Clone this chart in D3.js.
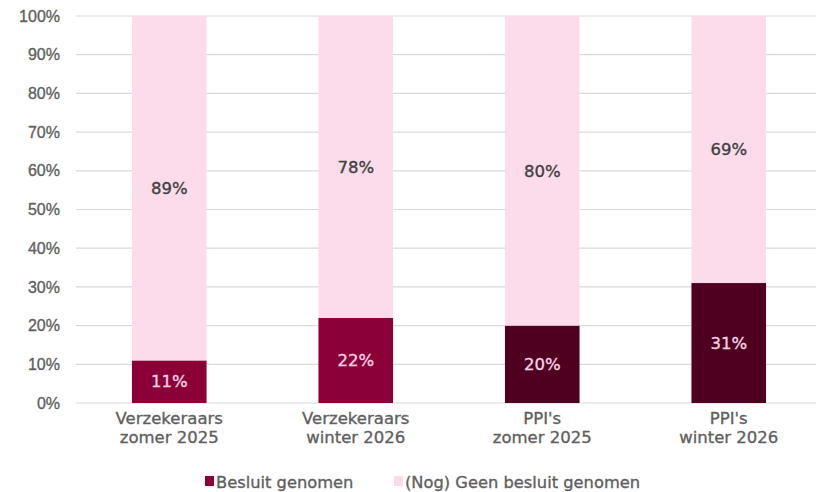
<!DOCTYPE html>
<html>
<head>
<meta charset="utf-8">
<script src="https://cdn.jsdelivr.net/npm/d3@7"></script>
<style>
  html, body { margin: 0; padding: 0; background: #fff; }
  svg { display: block; font-family: "DejaVu Sans", Verdana, sans-serif; }
  .txt { paint-order: stroke; stroke-width: 0.35px; }
</style>
</head>
<body>
<svg id="chart" width="822" height="492"></svg>
<script>
// Categories (two-line labels) and stacked shares
const categories = [
  ["Verzekeraars", "zomer 2025"],
  ["Verzekeraars", "winter 2026"],
  ["PPI's", "zomer 2025"],
  ["PPI's", "winter 2026"]
];
const besluit = [11, 22, 20, 31];
const geenBesluit = [89, 78, 80, 69];
const yTicks = [0, 10, 20, 30, 40, 50, 60, 70, 80, 90, 100];
const seriesNames = ["Besluit genomen", "(Nog) Geen besluit genomen"];

// Bottom segment colour per category, pink for the remainder
const bottomColors = ["#8c0038", "#8c0038", "#4f0020", "#4f0020"];
const topColor = "#fcdcea";
const axisGrey = "#5f5f5f";

const svg = d3.select("#chart");
const margin = { left: 76, right: 0, top: 16, bottom: 89 };
const W = 822, H = 492;

const x = d3.scaleBand()
  .domain(d3.range(categories.length))
  .range([margin.left, W - margin.right])
  .paddingInner(0.6)
  .paddingOuter(0.3);

const y = d3.scaleLinear().domain([0, 100]).range([H - margin.bottom, margin.top]);

// Gridlines
svg.append("g")
  .selectAll("line")
  .data(yTicks)
  .join("line")
  .attr("x1", margin.left)
  .attr("x2", W - 6)
  .attr("y1", d => y(d))
  .attr("y2", d => y(d))
  .attr("stroke", "#d9d9d9")
  .attr("stroke-width", 1.2);

// Y axis labels
const yAxis = d3.axisLeft(y).tickValues(yTicks).tickFormat(d => d + "%").tickSize(0);
const yg = svg.append("g").attr("transform", `translate(${margin.left},0)`).call(yAxis);
yg.select(".domain").remove();
yg.selectAll("text")
  .attr("class", "txt")
  .attr("fill", axisGrey).attr("stroke", axisGrey)
  .attr("font-size", 16).attr("x", -16);

// Stacked bars
const bars = svg.append("g");
categories.forEach((c, i) => {
  bars.append("rect")
    .attr("x", x(i)).attr("width", x.bandwidth())
    .attr("y", y(besluit[i])).attr("height", y(0) - y(besluit[i]))
    .attr("fill", bottomColors[i]);
  bars.append("rect")
    .attr("x", x(i)).attr("width", x.bandwidth())
    .attr("y", y(besluit[i] + geenBesluit[i])).attr("height", y(besluit[i]) - y(besluit[i] + geenBesluit[i]))
    .attr("fill", topColor);
  // Value labels
  bars.append("text")
    .attr("class", "txt")
    .attr("x", x(i) + x.bandwidth() / 2)
    .attr("y", (y(0) + y(besluit[i])) / 2)
    .attr("dy", "0.35em")
    .attr("text-anchor", "middle")
    .attr("font-size", 16.5)
    .attr("fill", "#f6d3e3").attr("stroke", "#f6d3e3")
    .text(besluit[i] + "%");
  bars.append("text")
    .attr("class", "txt")
    .attr("x", x(i) + x.bandwidth() / 2)
    .attr("y", (y(besluit[i]) + y(besluit[i] + geenBesluit[i])) / 2)
    .attr("dy", "0.35em")
    .attr("text-anchor", "middle")
    .attr("font-size", 16.5)
    .attr("fill", "#404040").attr("stroke", "#404040")
    .text(geenBesluit[i] + "%");
});

// Category labels
const xl = svg.append("g");
categories.forEach((c, i) => {
  const t = xl.append("text")
    .attr("class", "txt")
    .attr("text-anchor", "middle")
    .attr("font-size", 16.5)
    .attr("fill", axisGrey).attr("stroke", axisGrey);
  c.forEach((line, k) => {
    t.append("tspan")
      .attr("x", x(i) + x.bandwidth() / 2)
      .attr("y", 424 + k * 19)
      .text(line);
  });
});

// Legend
const legend = svg.append("g");
const legendItems = [
  { name: seriesNames[0], color: bottomColors[0], x: 205 },
  { name: seriesNames[1], color: topColor, x: 394 }
];
legendItems.forEach(it => {
  legend.append("rect").attr("x", it.x).attr("y", 476).attr("width", 9).attr("height", 10).attr("fill", it.color);
  legend.append("text").attr("class", "txt").attr("x", it.x + 11).attr("y", 488)
    .attr("font-size", 16.3).attr("fill", axisGrey).attr("stroke", axisGrey).text(it.name);
});
</script>
</body>
</html>
